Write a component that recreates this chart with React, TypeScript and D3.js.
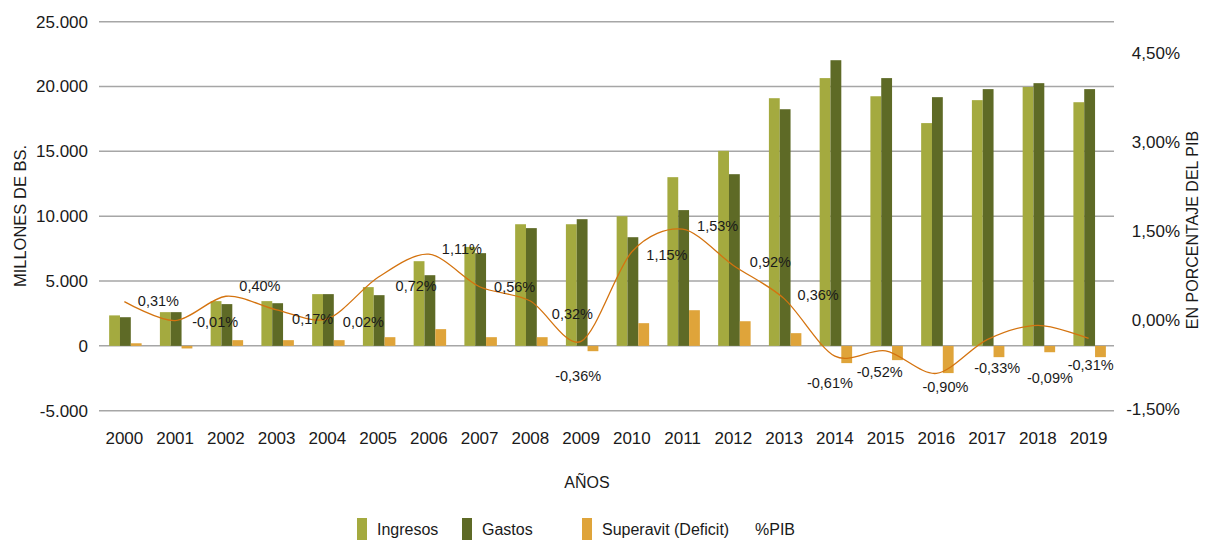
import React from 'react';
import * as d3 from 'd3';

const years = ['2000', '2001', '2002', '2003', '2004', '2005', '2006', '2007', '2008', '2009',
  '2010', '2011', '2012', '2013', '2014', '2015', '2016', '2017', '2018', '2019'];
const ingresos = [2350, 2600, 3450, 3450, 3990, 4530, 6530, 7630, 9380, 9380,
  10000, 13010, 15040, 19100, 20650, 19250, 17180, 18950, 19970, 18790];
const gastos = [2210, 2600, 3220, 3290, 3990, 3910, 5450, 7150, 9080, 9770,
  8380, 10470, 13240, 18250, 22030, 20650, 19180, 19800, 20260, 19800];
const superavit = [200, -200, 440, 440, 440, 670, 1290, 670, 670, -410,
  1750, 2750, 1900, 980, -1330, -1100, -2100, -870, -490, -870];
const pib = [0.31, -0.01, 0.40, 0.17, 0.02, 0.72, 1.11, 0.56, 0.32, -0.36,
  1.15, 1.53, 0.92, 0.36, -0.61, -0.52, -0.90, -0.33, -0.09, -0.31];
const leftTicks = [-5000, 0, 5000, 10000, 15000, 20000, 25000];
const rightTicks = [-1.5, 0, 1.5, 3, 4.5];

// label offsets relative to each line point (Excel placed them by hand)
const labelOffsets: [number, number][] = [
  [34, -1], [40, 1], [34, -10], [36, 9], [36, 3], [38, 9], [33, -5], [35, 0], [42, 13], [-3, 35],
  [35, 3], [35, -3], [37, -3], [34, -4], [-5, 27], [-6, 21], [9, 14], [10, 28], [12, 53], [2, 27],
];

const colors = { ingresos: '#a4aa3f', gastos: '#5e6a26', superavit: '#dfa43a', line: '#d4730f' };
const font = '"Liberation Sans", Arial, sans-serif';
const textColor = '#1a1a1a';

// d3 uses a unicode minus, the source uses a plain hyphen
const fmtThousands = (v: number) => d3.format(',')(v).replace(/,/g, '.').replace('\u2212', '-');
const fmtPct = (v: number) => d3.format('.2f')(v).replace('.', ',').replace('\u2212', '-') + '%';

const App: React.FC = () => {
  const width = 1211;
  const height = 542;
  const left = 99;
  const right = 1114;

  const x = d3.scaleBand<string>().domain(years).range([left, right]).padding(0);
  const bw = x.bandwidth();
  const series = ['ingresos', 'gastos', 'superavit'];
  const x1 = d3.scaleBand<string>().domain(series).range([0, bw * 0.64]).padding(0);
  const yL = d3.scaleLinear().domain([-5000, 25000]).range([410.7, 21.7]);
  const yR = d3.scaleLinear().domain([-1.5, 4.5]).range([409, 53]);

  const cx = (i: number) => (x(years[i]) as number) + bw / 2;

  const line = d3
    .line<number>()
    .x((_, i) => cx(i))
    .y((d) => yR(d))
    .curve(d3.curveCardinal.tension(0.1));

  const valuesBySeries: Record<string, number[]> = { ingresos, gastos, superavit };

  return (
    <svg width={width} height={height} style={{ position: 'absolute', left: 0, top: 0, background: '#fff' }}
      fontFamily={font}>
      {/* grid */}
      {leftTicks.map((t) => (
        <line key={t} x1={left} x2={right} y1={yL(t)} y2={yL(t)} stroke="#a6a6a6" strokeWidth={1.5} />
      ))}
      {/* left ticks */}
      {leftTicks.map((t) => (
        <text key={'l' + t} x={88} y={yL(t)} dy="0.35em" textAnchor="end" fontSize={17} fill={textColor}>
          {fmtThousands(t)}
        </text>
      ))}
      {/* right ticks */}
      {rightTicks.map((t) => (
        <text key={'r' + t} x={1180} y={yR(t)} dy="0.35em" textAnchor="end" fontSize={17} fill={textColor}>
          {fmtPct(t)}
        </text>
      ))}
      {/* bars */}
      {years.map((yr, i) => (
        <g key={yr} transform={`translate(${(x(yr) as number) + bw * 0.2},0)`}>
          {series.map((s) => {
            const v = valuesBySeries[s][i];
            return (
              <rect key={s} x={x1(s)} width={x1.bandwidth()} y={yL(Math.max(0, v))}
                height={Math.abs(yL(v) - yL(0))} fill={(colors as any)[s]} />
            );
          })}
        </g>
      ))}
      {/* %PIB line */}
      <path d={line(pib) || ''} fill="none" stroke={colors.line} strokeWidth={1.3} />
      {pib.map((v, i) => (
        <text key={'p' + i} x={cx(i) + labelOffsets[i][0]} y={yR(v) + labelOffsets[i][1]} dy="0.35em"
          textAnchor="middle" fontSize={14.5} fill={textColor}>
          {fmtPct(v)}
        </text>
      ))}
      {/* x labels */}
      {years.map((yr) => (
        <text key={'x' + yr} x={(x(yr) as number) + bw / 2} y={438} dy="0.35em" textAnchor="middle"
          fontSize={17} fill={textColor}>
          {yr}
        </text>
      ))}
      {/* axis titles */}
      <text transform="translate(20,216) rotate(-90)" textAnchor="middle" dy="0.35em" fontSize={16.5} fill={textColor}>
        MILLONES DE BS.
      </text>
      <text transform="translate(1192,230) rotate(-90)" textAnchor="middle" dy="0.35em" fontSize={16} fill={textColor}>
        EN PORCENTAJE DEL PIB
      </text>
      <text x={587} y={482} dy="0.35em" textAnchor="middle" fontSize={16} fill={textColor}>
        AÑOS
      </text>
      {/* legend */}
      {[
        { label: 'Ingresos', color: colors.ingresos, x: 357 },
        { label: 'Gastos', color: colors.gastos, x: 462 },
        { label: 'Superavit (Deficit)', color: colors.superavit, x: 582 },
        { label: '%PIB', color: null, x: 735 },
      ].map((d) => (
        <g key={d.label} transform={`translate(${d.x},518)`}>
          {d.color && <rect x={0} y={0} width={10} height={22} fill={d.color} />}
          <text x={20} y={11} dy="0.35em" fontSize={16} fill={textColor}>
            {d.label}
          </text>
        </g>
      ))}
    </svg>
  );
};

export default App;
